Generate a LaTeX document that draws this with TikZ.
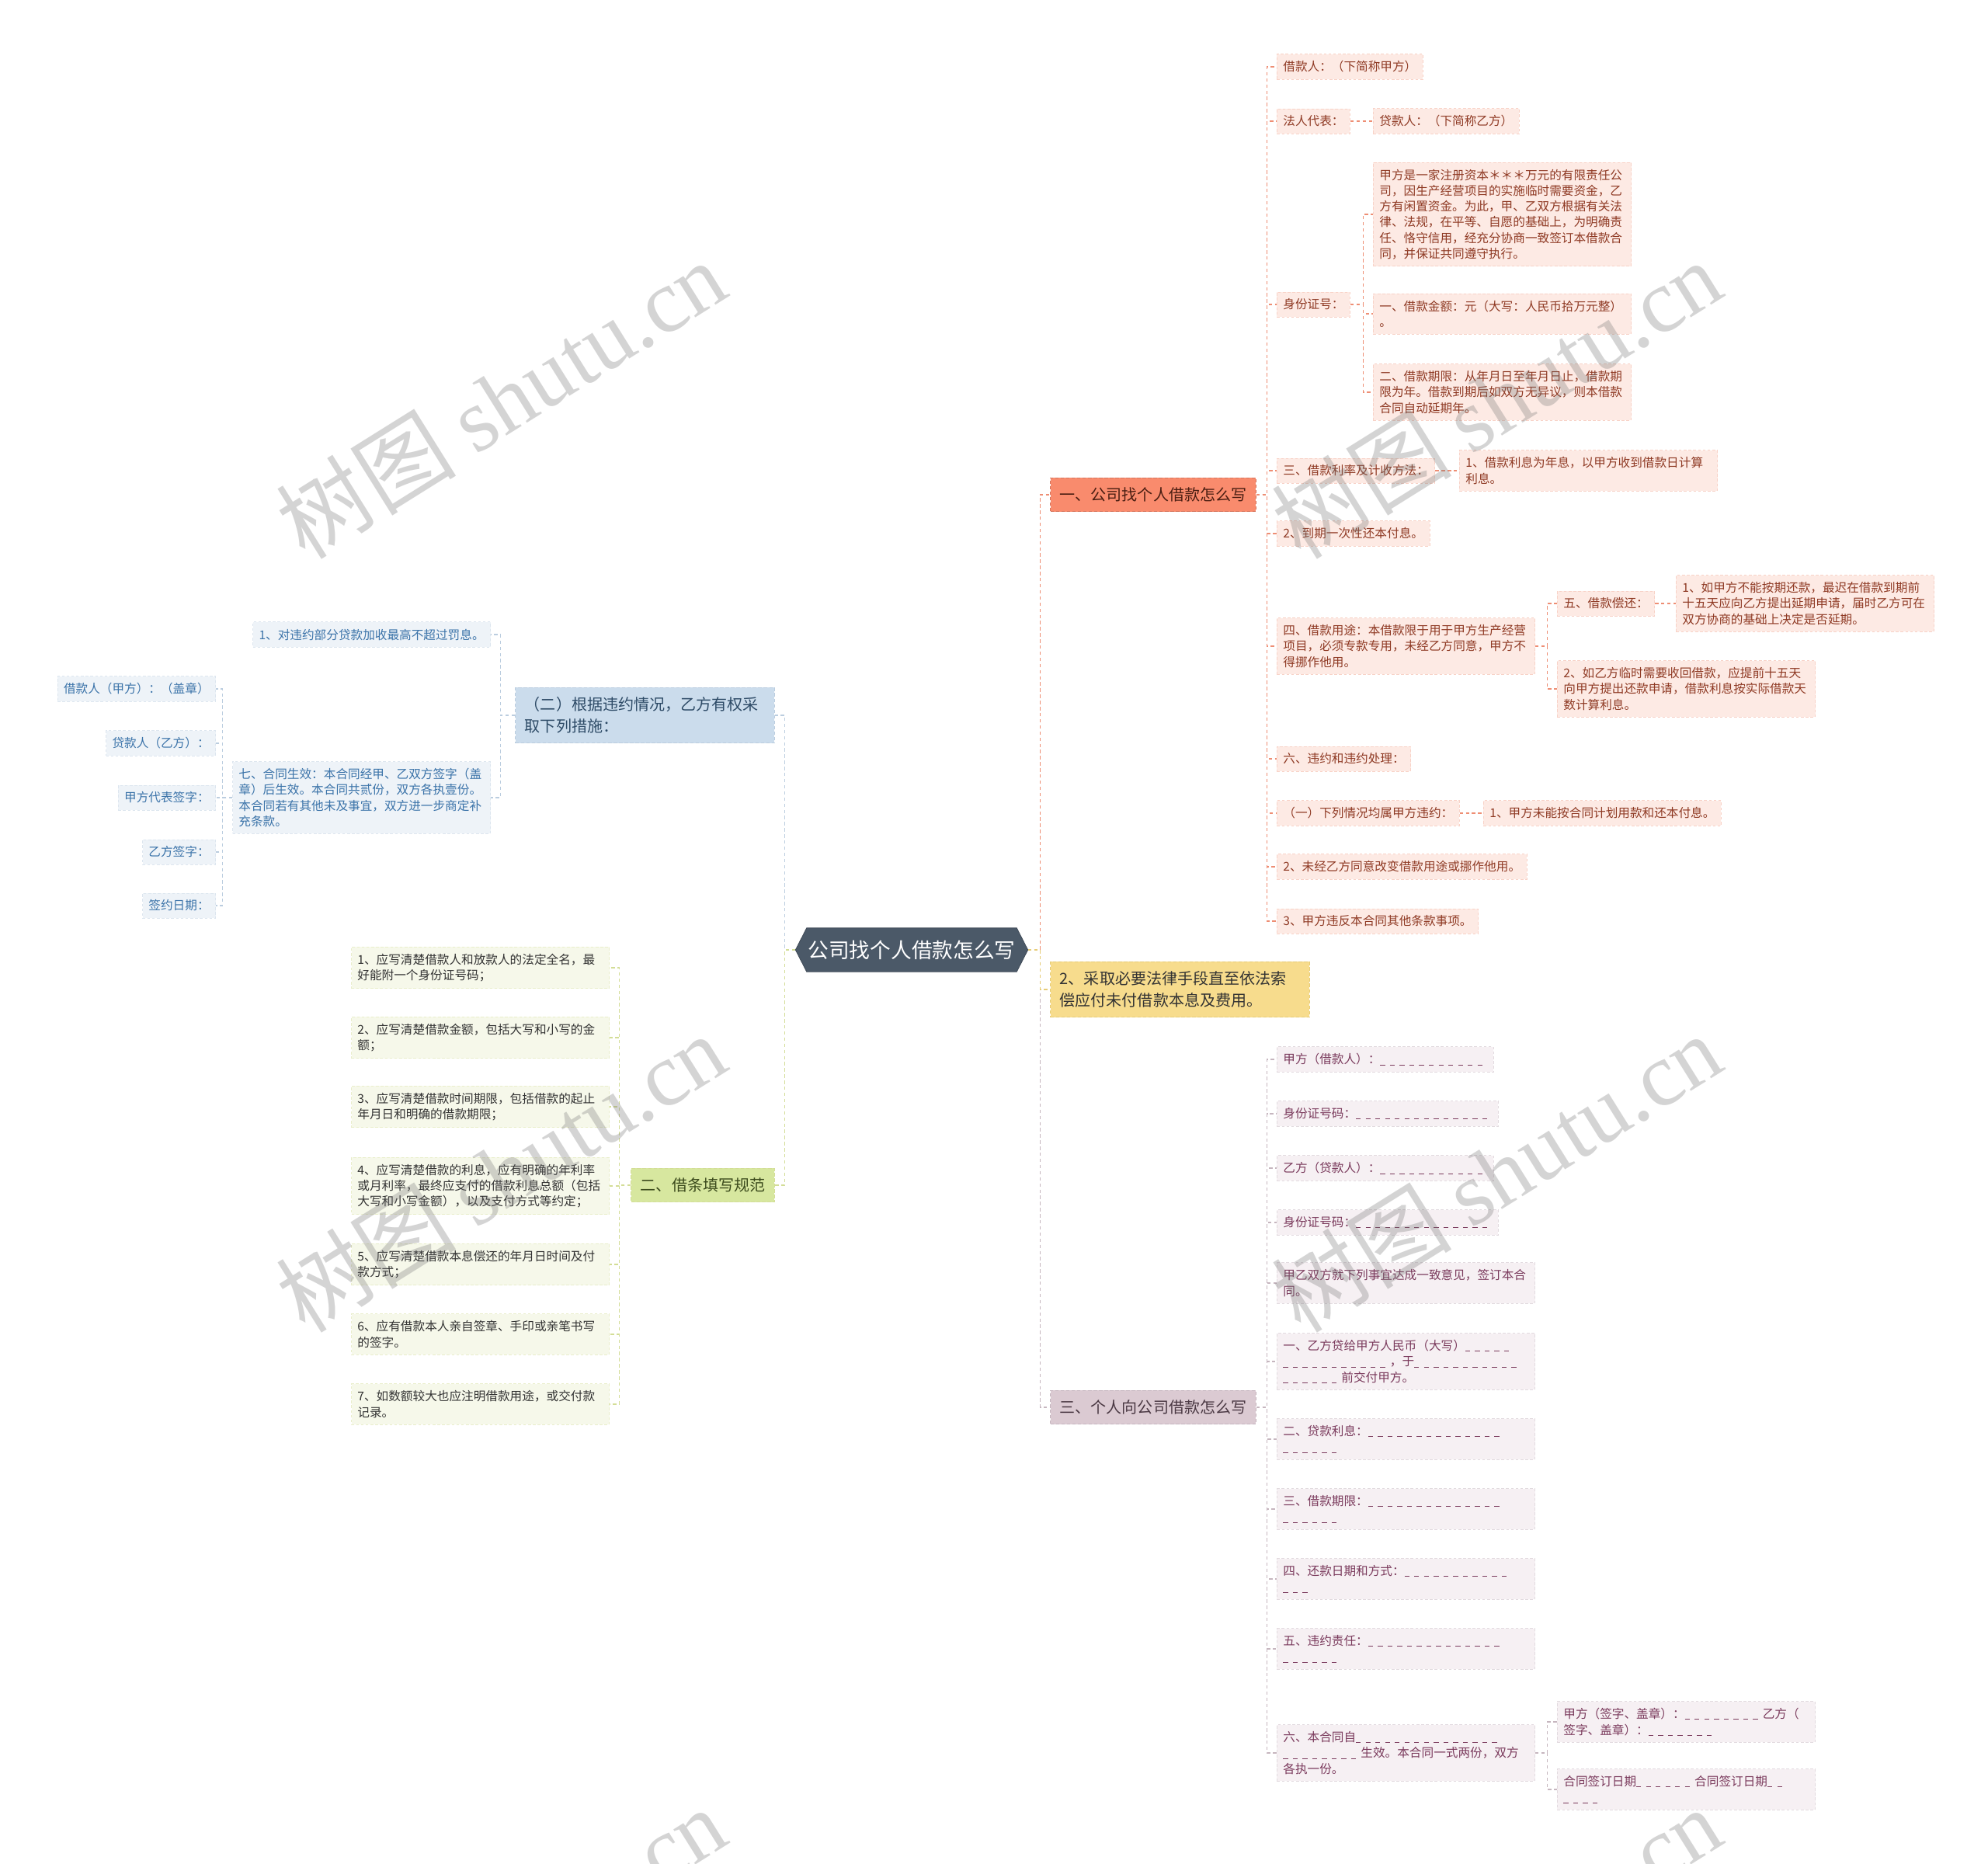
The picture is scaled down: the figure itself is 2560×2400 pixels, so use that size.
\documentclass[tikz,border=0pt]{standalone}
\usepackage{fontspec}
\setmainfont{Noto Sans CJK SC}
\newfontfamily\wmserif{Liberation Serif}
\usetikzlibrary{shapes.symbols}
\definecolor{Slate}{HTML}{4B5968}
\definecolor{Coral}{HTML}{F98B6D}
\definecolor{CoralInk}{HTML}{4A1E12}
\definecolor{CoralLeaf}{HTML}{FDEAE4}
\definecolor{CoralText}{HTML}{8F3A24}
\definecolor{CoralLine}{HTML}{EE8E74}
\definecolor{Butter}{HTML}{F7DC8D}
\definecolor{ButterLine}{HTML}{E6CC78}
\definecolor{Mauve}{HTML}{DBCAD2}
\definecolor{MauveInk}{HTML}{4A3843}
\definecolor{MauveLeaf}{HTML}{F6F0F3}
\definecolor{MauveText}{HTML}{7B3B5D}
\definecolor{MauveLine}{HTML}{C6B6BF}
\definecolor{Sky}{HTML}{CBDCEC}
\definecolor{SkyInk}{HTML}{2E4B67}
\definecolor{SkyLeaf}{HTML}{EEF3F8}
\definecolor{SkyText}{HTML}{3B73A9}
\definecolor{SkyLine}{HTML}{BBCDDF}
\definecolor{Lime}{HTML}{D7E79F}
\definecolor{LimeInk}{HTML}{3B4A1C}
\definecolor{LimeLeaf}{HTML}{F6F8EA}
\definecolor{LimeLine}{HTML}{D3DD96}
\definecolor{Ink}{HTML}{333333}
% blank to fill in
\newcommand\blk[1]{\foreach\x in {1,...,#1}{\rule[-0.1em]{0.4em}{0.06em}\hspace{0.4em}}}

\begin{document}
\begin{tikzpicture}[x=0.02cm,y=-0.02cm,
  every node/.style={font=\fontsize{8.9}{11.5}\selectfont},
  leaf/.style={inner xsep=4.5pt,inner ysep=5pt,align=left,line width=0.5pt,dash pattern=on 2pt off 1.5pt},
  wide/.style={text width=180pt},
  orleaf/.style={leaf,fill=CoralLeaf,draw=CoralLine!40,text=CoralText},
  mvleaf/.style={leaf,fill=MauveLeaf,draw=MauveLine!50,text=MauveText},
  skleaf/.style={leaf,fill=SkyLeaf,draw=SkyLine!50,text=SkyText},
  lmleaf/.style={leaf,fill=LimeLeaf,draw=LimeLine!50,text=Ink},
  branch/.style={font=\fontsize{11.4}{15.8}\selectfont,inner xsep=7pt,inner ysep=7pt,align=left,line width=0.6pt,dash pattern=on 2.5pt off 1.5pt},
  lnOr/.style={draw=CoralLine,line width=0.7pt,dash pattern=on 2.5pt off 2pt},
  lnYe/.style={draw=ButterLine,line width=0.7pt,dash pattern=on 2.5pt off 2pt},
  lnMv/.style={draw=MauveLine,line width=0.7pt,dash pattern=on 2.5pt off 2pt},
  lnSk/.style={draw=SkyLine,line width=0.7pt,dash pattern=on 2.5pt off 2pt},
  lnLm/.style={draw=LimeLine,line width=0.7pt,dash pattern=on 2.5pt off 2pt}]
\useasboundingbox (0,0) rectangle (2560,2400);
\fill[white] (0,0) rectangle (2560,2400);

\node[signal,signal to=east and west,signal pointer angle=126,fill=Slate,draw=Slate!80!black,text=white,font=\fontsize{15.2}{18}\selectfont,inner xsep=1pt,inner ysep=9pt] (root) at (1174,1223) {公司找个人借款怎么写};

% first level
\node[branch,fill=Coral,draw=Coral!85!black,text=CoralInk,anchor=west] (br1) at (1352,637) {一、公司找个人借款怎么写};
\node[branch,fill=Butter,draw=ButterLine,text=Ink,anchor=west,text width=176pt] (br2) at (1352,1274) {2、采取必要法律手段直至依法索\\偿应付未付借款本息及费用。};
\node[branch,fill=Mauve,draw=MauveLine,text=MauveInk,anchor=west] (br3) at (1352,1812) {三、个人向公司借款怎么写};
\node[branch,fill=Sky,draw=SkyLine,text=SkyInk,anchor=east,text width=176pt] (bl1) at (998,921) {（二）根据违约情况，乙方有权采\\取下列措施：};
\node[branch,fill=Lime,draw=LimeLine,text=LimeInk,anchor=east] (bl2) at (998,1526) {二、借条填写规范};

% 一、公司找个人借款怎么写
\node[orleaf,anchor=west] (o1) at (1644,86) {借款人：（下简称甲方）};
\node[orleaf,anchor=west] (o2) at (1644,156) {法人代表：};
\node[orleaf,anchor=west] (o2a) at (1768,156) {贷款人：（下简称乙方）};
\node[orleaf,anchor=west] (o3) at (1644,392) {身份证号：};
\node[orleaf,wide,anchor=west] (o3a) at (1768,276) {甲方是一家注册资本＊＊＊万元的有限责任公\\司，因生产经营项目的实施临时需要资金，乙\\方有闲置资金。为此，甲、乙双方根据有关法\\律、法规，在平等、自愿的基础上，为明确责\\任、恪守信用，经充分协商一致签订本借款合\\同，并保证共同遵守执行。};
\node[orleaf,wide,anchor=west] (o3b) at (1768,404) {一、借款金额：元（大写：人民币拾万元整）\\。};
\node[orleaf,wide,anchor=west] (o3c) at (1768,505) {二、借款期限：从年月日至年月日止，借款期\\限为年。借款到期后如双方无异议，则本借款\\合同自动延期年。};
\node[orleaf,anchor=west] (o4) at (1644,606) {三、借款利率及计收方法：};
\node[orleaf,wide,anchor=west] (o4a) at (1879,606) {1、借款利息为年息，以甲方收到借款日计算\\利息。};
\node[orleaf,anchor=west] (o5) at (1644,687) {2、到期一次性还本付息。};
\node[orleaf,wide,anchor=west] (o6) at (1644,832) {四、借款用途：本借款限于用于甲方生产经营\\项目，必须专款专用，未经乙方同意，甲方不\\得挪作他用。};
\node[orleaf,anchor=west] (o6a) at (2005,777) {五、借款偿还：};
\node[orleaf,wide,anchor=west] (o6a1) at (2158,777) {1、如甲方不能按期还款，最迟在借款到期前\\十五天应向乙方提出延期申请，届时乙方可在\\双方协商的基础上决定是否延期。};
\node[orleaf,wide,anchor=west] (o6b) at (2005,887) {2、如乙方临时需要收回借款，应提前十五天\\向甲方提出还款申请，借款利息按实际借款天\\数计算利息。};
\node[orleaf,anchor=west] (o7) at (1644,977) {六、违约和违约处理：};
\node[orleaf,anchor=west] (o8) at (1644,1047) {（一）下列情况均属甲方违约：};
\node[orleaf,anchor=west] (o8a) at (1910,1047) {1、甲方未能按合同计划用款和还本付息。};
\node[orleaf,anchor=west] (o9) at (1644,1116) {2、未经乙方同意改变借款用途或挪作他用。};
\node[orleaf,anchor=west] (o10) at (1644,1186) {3、甲方违反本合同其他条款事项。};

% 三、个人向公司借款怎么写
\node[mvleaf,anchor=west] (m1) at (1644,1364) {甲方（借款人）：\blk{11}};
\node[mvleaf,anchor=west] (m2) at (1644,1434) {身份证号码：\blk{14}};
\node[mvleaf,anchor=west] (m3) at (1644,1504) {乙方（贷款人）：\blk{11}};
\node[mvleaf,anchor=west] (m4) at (1644,1574) {身份证号码：\blk{14}};
\node[mvleaf,wide,anchor=west] (m5) at (1644,1652) {甲乙双方就下列事宜达成一致意见，签订本合\\同。};
\node[mvleaf,wide,anchor=west] (m6) at (1644,1753) {一、乙方贷给甲方人民币（大写）\blk{5}\\\blk{11}，于\blk{11}\\\blk{6}前交付甲方。};
\node[mvleaf,wide,anchor=west] (m7) at (1644,1853) {二、贷款利息：\blk{14}\\\blk{6}};
\node[mvleaf,wide,anchor=west] (m8) at (1644,1943) {三、借款期限：\blk{14}\\\blk{6}};
\node[mvleaf,wide,anchor=west] (m9) at (1644,2033) {四、还款日期和方式：\blk{11}\\\blk{3}};
\node[mvleaf,wide,anchor=west] (m10) at (1644,2123) {五、违约责任：\blk{14}\\\blk{6}};
\node[mvleaf,wide,anchor=west] (m11) at (1644,2257) {六、本合同自\blk{15}\\\blk{8}生效。本合同一式两份，双方\\各执一份。};
\node[mvleaf,wide,anchor=west] (m11a) at (2005,2217) {甲方（签字、盖章）：\blk{8}乙方（\\签字、盖章）：\blk{7}};
\node[mvleaf,wide,anchor=west] (m11b) at (2005,2304) {合同签订日期\blk{6}合同签订日期\blk{2}\\\blk{4}};

% （二）根据违约情况
\node[skleaf,anchor=east] (b1) at (632,817) {1、对违约部分贷款加收最高不超过罚息。};
\node[skleaf,wide,anchor=east] (b2) at (632,1027) {七、合同生效：本合同经甲、乙双方签字（盖\\章）后生效。本合同共贰份，双方各执壹份。\\本合同若有其他未及事宜，双方进一步商定补\\充条款。};
\node[skleaf,anchor=east] (b2a) at (278,887) {借款人（甲方）：（盖章）};
\node[skleaf,anchor=east] (b2b) at (278,957) {贷款人（乙方）：};
\node[skleaf,anchor=east] (b2c) at (278,1027) {甲方代表签字：};
\node[skleaf,anchor=east] (b2d) at (278,1097) {乙方签字：};
\node[skleaf,anchor=east] (b2e) at (278,1166) {签约日期：};

% 二、借条填写规范
\node[lmleaf,wide,anchor=east] (g1) at (785,1246) {1、应写清楚借款人和放款人的法定全名，最\\好能附一个身份证号码；};
\node[lmleaf,wide,anchor=east] (g2) at (785,1336) {2、应写清楚借款金额，包括大写和小写的金\\额；};
\node[lmleaf,wide,anchor=east] (g3) at (785,1425) {3、应写清楚借款时间期限，包括借款的起止\\年月日和明确的借款期限；};
\node[lmleaf,wide,anchor=east] (g4) at (785,1527) {4、应写清楚借款的利息，应有明确的年利率\\或月利率，最终应支付的借款利息总额（包括\\大写和小写金额），以及支付方式等约定；};
\node[lmleaf,wide,anchor=east] (g5) at (785,1628) {5、应写清楚借款本息偿还的年月日时间及付\\款方式；};
\node[lmleaf,wide,anchor=east] (g6) at (785,1718) {6、应有借款本人亲自签章、手印或亲笔书写\\的签字。};
\node[lmleaf,wide,anchor=east] (g7) at (785,1808) {7、如数额较大也应注明借款用途，或交付款\\记录。};

% connectors
\draw[lnOr] (root.east) -| ([xshift=-7pt]br1.west) -- (br1.west);
\draw[lnMv] (root.east) -| ([xshift=-7pt]br3.west) -- (br3.west);
\draw[lnYe] (root.east) -| ([xshift=-7pt]br2.west) -- (br2.west);
\draw[lnSk] (root.west) -| ([xshift=7pt]bl1.east) -- (bl1.east);
\draw[lnLm] (root.west) -| ([xshift=7pt]bl2.east) -- (bl2.east);
\foreach \c in {o1,o2,o3,o4,o5,o6,o7,o8,o9,o10}
  \draw[lnOr] (br1.east) -| ([xshift=-7pt]\c.west) -- (\c.west);
\foreach \c in {o3a,o3b,o3c}
  \draw[lnOr] (o3.east) -| ([xshift=-7pt]\c.west) -- (\c.west);
\foreach \c in {o6a,o6b}
  \draw[lnOr] (o6.east) -| ([xshift=-7pt]\c.west) -- (\c.west);
\draw[lnOr] (o2.east) -- (o2a.west);
\draw[lnOr] (o4.east) -- (o4a.west);
\draw[lnOr] (o6a.east) -- (o6a1.west);
\draw[lnOr] (o8.east) -- (o8a.west);
\foreach \c in {m1,m2,m3,m4,m5,m6,m7,m8,m9,m10,m11}
  \draw[lnMv] (br3.east) -| ([xshift=-7pt]\c.west) -- (\c.west);
\foreach \c in {m11a,m11b}
  \draw[lnMv] (m11.east) -| ([xshift=-7pt]\c.west) -- (\c.west);
\foreach \c in {b1,b2}
  \draw[lnSk] (bl1.west) -| ([xshift=7pt]\c.east) -- (\c.east);
\foreach \c in {b2a,b2b,b2c,b2d,b2e}
  \draw[lnSk] (b2.west) -| ([xshift=5pt]\c.east) -- (\c.east);
\foreach \c in {g1,g2,g3,g4,g5,g6,g7}
  \draw[lnLm] (bl2.west) -| ([xshift=7pt]\c.east) -- (\c.east);

% watermark
\foreach \wx/\wy [count=\w] in {645/514,1927/514,645/1510,1927/1510,645/2506,1927/2506}
  \node[rotate=32,text=black!55,opacity=0.3,font=\fontsize{66}{66}\selectfont] (wm\w) at (\wx,\wy) {树图 {\wmserif shutu.cn}};
\end{tikzpicture}
\end{document}
